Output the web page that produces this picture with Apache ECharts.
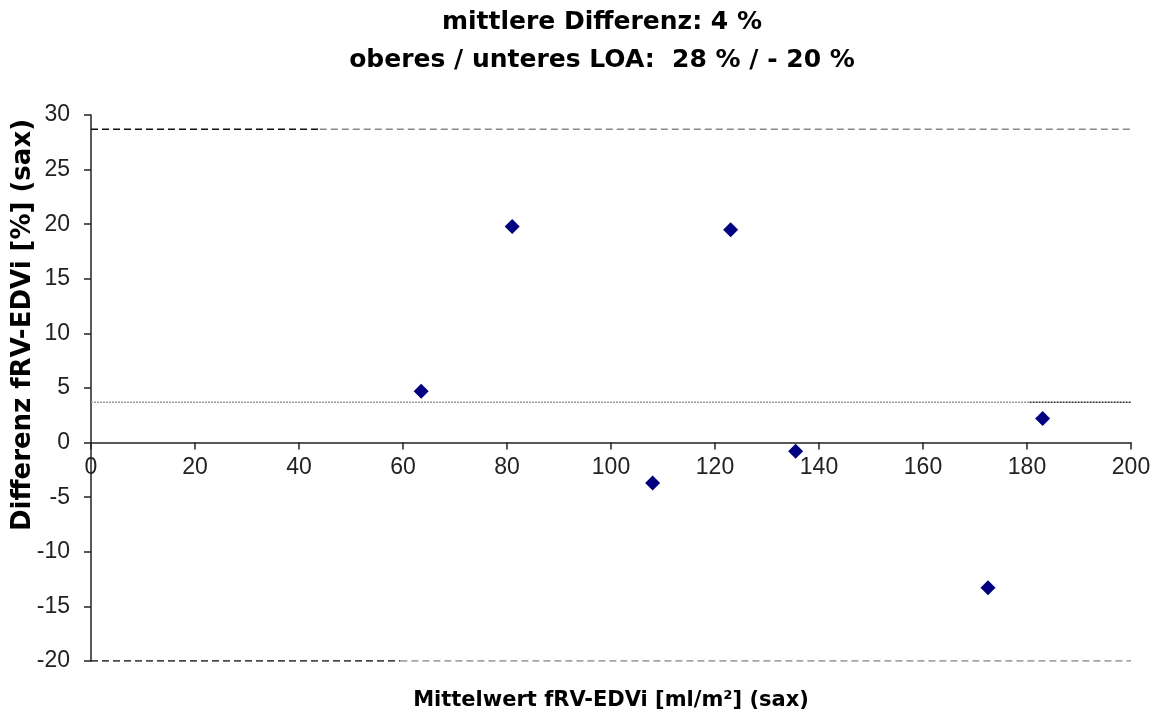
<!DOCTYPE html>
<html>
<head>
<meta charset="utf-8">
<script src="https://cdn.jsdelivr.net/npm/echarts@6/dist/echarts.min.js"></script>
<style>
  html, body { margin: 0; padding: 0; background: #fff; }
  #main { width: 1159px; height: 714px; }
</style>
</head>
<body>
<div id="main"></div>
<script>
var chart = echarts.init(document.getElementById('main'));

// Bland-Altman Punkte: Mittelwert / Differenz
var meanValues = [63.5, 81, 108, 123, 135.5, 172.5, 183];
var diffValues = [4.7, 19.8, -3.7, 19.5, -0.8, -13.3, 2.2];

// Linien (mittlere Differenz, LOA)
var meanDiff = 3.7;
var loaUpper = 28.7;
var loaLower = -20;

var font = 'Liberation Sans, Arial, sans-serif';
var boldFont = 'DejaVu Sans, sans-serif';

var points = meanValues.map(function (x, i) { return [x, diffValues[i]]; });

function seg(x0, x1, y) { return [[x0, y], [x1, y]]; }

function lineSeries(data, color, type, width) {
    return {
        type: 'line',
        data: data,
        symbol: 'none',
        silent: true,
        z: 1,
        lineStyle: { color: color, type: type, width: width }
    };
}

chart.setOption({
    animation: false,
    backgroundColor: '#fff',
    title: [{
        text: 'mittlere Differenz: 4 %\noberes / unteres LOA:  28 % / - 20 %',
        left: 597,
        top: -2,
        textAlign: 'center',
        textStyle: { fontFamily: boldFont, fontSize: 25, fontWeight: 'bold', color: '#000', lineHeight: 38 }
    }, {
        text: 'Mittelwert fRV-EDVi [ml/m²] (sax)',
        left: 606,
        top: 685,
        textAlign: 'center',
        textStyle: { fontFamily: boldFont, fontSize: 21, fontWeight: 'bold', color: '#000' }
    }],
    graphic: [{
        type: 'text',
        x: 23,
        y: 325,
        rotation: Math.PI / 2,
        style: {
            text: 'Differenz fRV-EDVi [%] (sax)',
            fontFamily: boldFont,
            fontSize: 26,
            fontWeight: 'bold',
            fill: '#000',
            align: 'center',
            verticalAlign: 'middle'
        }
    }],
    grid: [
        { left: 91, right: 28, top: 115, bottom: 53, outerBoundsMode: 'none' },
        // obere Hälfte, nur damit die x-Achse auf der Nulllinie beschriftet wird
        { left: 91, right: 28, top: 115, bottom: 271.4, outerBoundsMode: 'none' }
    ],
    xAxis: [{
        type: 'value',
        gridIndex: 0,
        min: 0,
        max: 200,
        interval: 20,
        show: false
    }, {
        type: 'value',
        gridIndex: 1,
        min: 0,
        max: 200,
        interval: 20,
        splitLine: { show: false },
        axisLine: { onZero: false, lineStyle: { color: '#222', width: 1.5 } },
        axisTick: { show: true, length: 7, lineStyle: { color: '#222', width: 1.5 } },
        axisLabel: { margin: 14, fontFamily: font, fontSize: 23, color: '#222' }
    }],
    yAxis: [{
        type: 'value',
        gridIndex: 0,
        min: -20,
        max: 30,
        interval: 5,
        splitLine: { show: false },
        axisLine: { show: true, onZero: false, lineStyle: { color: '#222', width: 1.5 } },
        axisTick: { show: true, length: 7, lineStyle: { color: '#222', width: 1.5 } },
        axisLabel: { margin: 21, fontFamily: font, fontSize: 23, color: '#222' }
    }, {
        type: 'value',
        gridIndex: 1,
        min: 0,
        max: 30,
        show: false
    }],
    series: [
        lineSeries(seg(0, 44, loaUpper), '#111', [7, 4], 1.5),
        lineSeries(seg(44, 200, loaUpper), '#888', [7, 4], 1.5),
        lineSeries(seg(0, 59.5, loaLower), '#111', [7, 4], 1.5),
        lineSeries(seg(59.5, 200, loaLower), '#888', [7, 4], 1.5),
        lineSeries(seg(0, 180.5, meanDiff), '#999', [2, 1], 1.5),
        lineSeries(seg(180.5, 200, meanDiff), '#333', [2, 1], 1.5),
        {
            type: 'scatter',
            data: points,
            symbol: 'diamond',
            symbolSize: 15,
            z: 3,
            itemStyle: { color: '#000080', opacity: 1 }
        }
    ]
});
</script>
</body>
</html>
